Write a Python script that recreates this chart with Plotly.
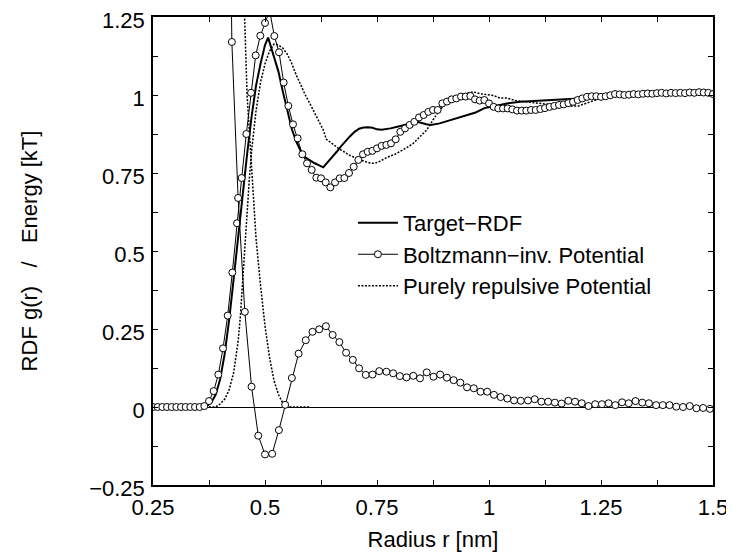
import plotly.graph_objects as go

# ---------------- data ----------------
# Target RDF (solid)
target_r = [0.25, 0.30, 0.35, 0.36, 0.37, 0.38, 0.39, 0.40, 0.41, 0.42, 0.43, 0.44, 0.45, 0.46, 0.47,
            0.48, 0.49, 0.50, 0.507, 0.52, 0.53, 0.54, 0.55, 0.56, 0.57, 0.58, 0.59, 0.60, 0.61,
            0.62, 0.63, 0.64, 0.65, 0.66, 0.67, 0.68, 0.69, 0.70, 0.71, 0.72, 0.73, 0.74, 0.75,
            0.76, 0.77, 0.78, 0.80, 0.82, 0.84, 0.86, 0.87, 0.89, 0.91, 0.93, 0.95, 0.97, 0.99,
            1.01, 1.04, 1.07, 1.10, 1.15, 1.20, 1.25, 1.30, 1.35, 1.40, 1.45, 1.50]
target_g = [0.0, 0.0, 0.0, 0.0, 0.003, 0.014, 0.04, 0.09, 0.17, 0.28, 0.41, 0.55, 0.69, 0.81, 0.93,
            1.03, 1.10, 1.16, 1.184, 1.12, 1.075, 1.01, 0.95, 0.89, 0.85, 0.82, 0.80, 0.79, 0.782,
            0.775, 0.768, 0.785, 0.80, 0.818, 0.836, 0.853, 0.868, 0.882, 0.892, 0.896, 0.897, 0.895, 0.89,
            0.889, 0.891, 0.893, 0.90, 0.908, 0.914, 0.906, 0.904, 0.909, 0.918, 0.928, 0.936, 0.944, 0.958,
            0.965, 0.973, 0.978, 0.98, 0.985, 0.989, 0.995, 1.0, 1.0, 1.002, 1.005, 1.005]

# RDF obtained with the Boltzmann-inverted potential (circles)
boltz_rdf_r = [0.2500, 0.2604, 0.2708, 0.2813, 0.2917, 0.3021, 0.3125, 0.3229, 0.3333, 0.3438,
               0.3542, 0.3646, 0.3750, 0.3854, 0.3958, 0.4063, 0.4167, 0.4271, 0.4375, 0.4479,
               0.4583, 0.4688, 0.4792, 0.4896, 0.5000, 0.5104, 0.5208, 0.5313, 0.5417, 0.5521,
               0.5625, 0.5729, 0.5833, 0.5938, 0.6042, 0.6146, 0.6250, 0.6354, 0.6458, 0.6563,
               0.6667, 0.6771, 0.6875, 0.6979, 0.7083, 0.7188, 0.7292, 0.7396, 0.7500, 0.7604,
               0.7708, 0.7813, 0.7917, 0.8021, 0.8125, 0.8229, 0.8333, 0.8438, 0.8542, 0.8646,
               0.8750, 0.8854, 0.8958, 0.9063, 0.9167, 0.9271, 0.9375, 0.9479, 0.9583, 0.9688,
               0.9792, 0.9896, 1.0000, 1.0104, 1.0208, 1.0313, 1.0417, 1.0521, 1.0625, 1.0729,
               1.0833, 1.0938, 1.1042, 1.1146, 1.1250, 1.1354, 1.1458, 1.1563, 1.1667, 1.1771,
               1.1875, 1.1979, 1.2083, 1.2188, 1.2292, 1.2396, 1.2500, 1.2604, 1.2708, 1.2813,
               1.2917, 1.3021, 1.3125, 1.3229, 1.3333, 1.3438, 1.3542, 1.3646, 1.3750, 1.3854,
               1.3958, 1.4063, 1.4167, 1.4271, 1.4375, 1.4479, 1.4583, 1.4688, 1.4792, 1.4896,
               1.5000]
boltz_rdf_g = [0.0, 0.0, 0.0, 0.0, 0.0, 0.0, 0.0, 0.0, 0.0, 0.0,
               0.0, 0.003, 0.019, 0.051, 0.104, 0.188, 0.293, 0.431, 0.589, 0.734,
               0.875, 1.007, 1.127, 1.19, 1.231, 1.27, 1.189, 1.137, 1.04, 0.965,
               0.906, 0.861, 0.81, 0.781, 0.76, 0.735, 0.733, 0.72, 0.704, 0.72,
               0.733, 0.734, 0.75, 0.77, 0.792, 0.81, 0.818, 0.821, 0.829, 0.837,
               0.840, 0.845, 0.858, 0.882, 0.893, 0.904, 0.914, 0.928, 0.936, 0.946,
               0.952, 0.952, 0.973, 0.979, 0.986, 0.989, 0.995, 0.995, 0.997, 0.986,
               0.982, 0.984, 0.973, 0.962, 0.957, 0.957, 0.957, 0.954, 0.95, 0.95,
               0.95, 0.952, 0.952, 0.955, 0.958, 0.962, 0.965, 0.968, 0.970, 0.974,
               0.978, 0.984, 0.989, 0.994, 0.996, 0.996, 0.994, 0.996, 0.999, 1.003,
               1.002, 1.0, 1.001, 1.003, 1.002, 1.004, 1.005, 1.004, 1.006, 1.007,
               1.005, 1.007, 1.006, 1.007, 1.006, 1.008, 1.007, 1.009, 1.008, 1.007,
               1.003]

# Boltzmann-inverted potential (circles)
boltz_pot_r = [0.411, 0.426, 0.440, 0.455, 0.470, 0.485, 0.500, 0.516, 0.531, 0.545,
               0.560, 0.575, 0.591, 0.606, 0.621, 0.636, 0.651, 0.666, 0.681, 0.696,
               0.710, 0.725, 0.740, 0.755, 0.771, 0.786, 0.801, 0.816, 0.831, 0.846,
               0.861, 0.876, 0.891, 0.906, 0.921, 0.936, 0.951, 0.966, 0.981, 0.996,
               1.011, 1.026, 1.041, 1.056, 1.071, 1.087, 1.102, 1.117, 1.132, 1.147,
               1.162, 1.177, 1.192, 1.207, 1.222, 1.237, 1.252, 1.267, 1.282, 1.297,
               1.312, 1.327, 1.342, 1.357, 1.373, 1.388, 1.403, 1.418, 1.433, 1.448,
               1.463, 1.478, 1.493]
boltz_pot_u = [3.0, 1.17, 0.67, 0.305, 0.065, -0.092, -0.152, -0.150, -0.074, 0.007,
               0.093, 0.171, 0.214, 0.241, 0.249, 0.259, 0.231, 0.208, 0.174, 0.151,
               0.124, 0.103, 0.104, 0.115, 0.113, 0.108, 0.099, 0.095, 0.100, 0.092,
               0.111, 0.097, 0.104, 0.094, 0.086, 0.078, 0.063, 0.060, 0.049, 0.049,
               0.039, 0.032, 0.027, 0.021, 0.020, 0.021, 0.025, 0.017, 0.017, 0.014,
               0.011, 0.020, 0.017, 0.012, 0.003, 0.009, 0.009, 0.012, 0.006, 0.015,
               0.012, 0.019, 0.014, 0.012, 0.006, 0.006, 0.006, 0.001, 0.000, 0.003,
               -0.004, -0.003, -0.006]

# RDF obtained with the purely repulsive potential (dotted)
rep_rdf_r = [0.25, 0.30, 0.35, 0.39, 0.40, 0.41, 0.42, 0.43, 0.44, 0.445, 0.45, 0.455, 0.46, 0.465,
             0.47, 0.48, 0.49, 0.50, 0.51, 0.52, 0.53, 0.54, 0.55, 0.56, 0.57, 0.58, 0.59, 0.60,
             0.61, 0.62, 0.63, 0.637, 0.65, 0.667, 0.69, 0.712, 0.734, 0.745, 0.757, 0.772, 0.79,
             0.801, 0.815, 0.831, 0.846, 0.861, 0.875, 0.89, 0.905, 0.92, 0.935, 0.95, 0.965,
             0.98, 0.995, 1.01, 1.025, 1.04, 1.06, 1.08, 1.10, 1.12, 1.15, 1.18, 1.20, 1.22,
             1.25, 1.28, 1.30, 1.35, 1.40, 1.45, 1.50]
rep_rdf_g = [0.0, 0.0, 0.0, 0.0, 0.01, 0.025, 0.055, 0.11, 0.21, 0.29, 0.40, 0.52, 0.63, 0.73,
             0.82, 0.95, 1.04, 1.10, 1.14, 1.163, 1.16, 1.15, 1.13, 1.10, 1.063, 1.03, 1.0, 0.973,
             0.945, 0.915, 0.888, 0.858, 0.843, 0.826, 0.806, 0.792, 0.782, 0.781, 0.788, 0.800, 0.81,
             0.818, 0.83, 0.845, 0.866, 0.888, 0.92, 0.952, 0.975, 0.993, 1.0, 1.005, 1.01,
             1.004, 1.0, 0.998, 0.99, 0.99, 0.982, 0.978, 0.975, 0.972, 0.968, 0.964, 0.965, 0.975,
             0.99, 0.998, 1.0, 1.002, 1.003, 1.005, 1.003]

# Purely repulsive potential (dotted)
rep_pot_r = [0.440, 0.450, 0.460, 0.470, 0.480, 0.490, 0.500, 0.510, 0.520, 0.530,
             0.540, 0.550, 0.560, 0.600]
rep_pot_u = [2.4, 1.45, 1.0, 0.75, 0.54, 0.39, 0.26, 0.16, 0.085, 0.04,
             0.012, 0.002, 0.0, 0.0]

x_tickvals = [0.25, 0.375, 0.5, 0.625, 0.75, 0.875, 1.0, 1.125, 1.25, 1.375, 1.5]
x_ticktext = ["0.25", "", "0.5", "", "0.75", "", "1", "", "1.25", "", "1.5"]
y_tickvals = [-0.25, -0.125, 0.0, 0.125, 0.25, 0.375, 0.5, 0.625, 0.75, 0.875, 1.0, 1.125, 1.25]
y_ticktext = ["\u22120.25", "", "0", "", "0.25", "", "0.5", "", "0.75", "", "1", "", "1.25"]

# ---------------- figure ----------------
FONT = "Liberation Sans, Arial, Helvetica, sans-serif"
circle_marker = dict(symbol="circle", size=7, color="white", line=dict(color="black", width=1))
dotted = dict(color="black", width=1.5, dash="2px,1.5px")

fig = go.Figure()
fig.add_trace(go.Scatter(x=target_r, y=target_g, mode="lines", name="Target\u2212RDF",
                         line=dict(color="black", width=2), legendrank=1))
fig.add_trace(go.Scatter(x=rep_rdf_r, y=rep_rdf_g, mode="lines", showlegend=False, line=dotted))
fig.add_trace(go.Scatter(x=rep_pot_r, y=rep_pot_u, mode="lines", name="Purely repulsive Potential",
                         line=dotted, legendrank=3))
fig.add_trace(go.Scatter(x=boltz_rdf_r, y=boltz_rdf_g, mode="lines+markers", showlegend=False,
                         line=dict(color="black", width=1), marker=circle_marker))
fig.add_trace(go.Scatter(x=boltz_pot_r, y=boltz_pot_u, mode="lines+markers",
                         name="Boltzmann\u2212inv. Potential",
                         line=dict(color="black", width=1), marker=circle_marker, legendrank=2))

axis_common = dict(showline=True, linecolor="black", linewidth=1.5, mirror="ticks",
                   ticks="inside", ticklen=5, tickwidth=1, tickcolor="black",
                   showgrid=False, automargin=False, ticklabeloverflow="allow",
                   tickfont=dict(family=FONT, size=22, color="black"))

fig.update_xaxes(range=[0.25, 1.5], tickvals=x_tickvals, ticktext=x_ticktext,
                 zeroline=False, ticklabelstandoff=2,
                 title=dict(text="Radius r [nm]", font=dict(family=FONT, size=22, color="black"),
                            standoff=12),
                 **axis_common)
fig.update_yaxes(range=[-0.25, 1.25], tickvals=y_tickvals, ticktext=y_ticktext,
                 zeroline=True, zerolinecolor="black", zerolinewidth=1, ticklabelstandoff=2,
                 ticklabelshift=3,
                 title=dict(text="RDF g(r)\u00a0\u00a0\u00a0/\u00a0\u00a0\u00a0Energy [kT]",
                            font=dict(family=FONT, size=22, color="black"), standoff=45),
                 **axis_common)

# the page places the figure 8px in from the top-left corner, margins compensate
fig.update_layout(
    width=734, height=556,
    margin=dict(l=145, r=29, t=9, b=79),
    paper_bgcolor="white", plot_bgcolor="white",
    font=dict(family=FONT, size=22, color="black"),
    legend=dict(x=0.357, y=0.605, xanchor="left", yanchor="top", bgcolor="rgba(0,0,0,0)",
                font=dict(family=FONT, size=22, color="black"), tracegroupgap=0,
                itemwidth=40),
)

fig.write_html("out.html")
